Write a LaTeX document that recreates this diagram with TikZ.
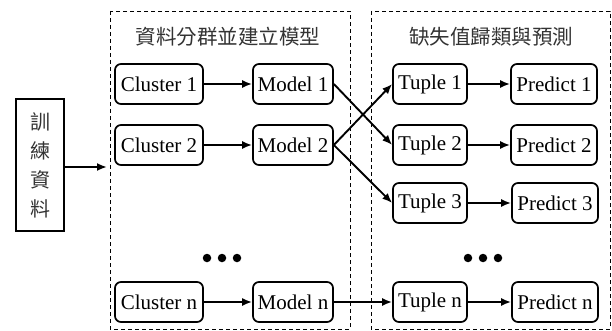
\documentclass[tikz,border=0pt]{standalone}
\usepackage{fontspec}
\setmainfont{Liberation Serif}
\newfontfamily\cjk{Noto Sans CJK TC}
\usetikzlibrary{arrows.meta}
\begin{document}
\begin{tikzpicture}[x=1pt,y=-1pt,
  item/.style={draw,line width=1.7pt,rounded corners=6pt,minimum height=40pt,
    inner sep=0pt,font=\fontsize{21}{22}\selectfont},
  link/.style={line width=1.9pt,-{Latex[length=10pt,width=8pt]}},
  group/.style={draw,line width=0.9pt,dash pattern=on 4pt off 3pt},
  heading/.style={font=\cjk\fontsize{20.5}{22}\selectfont,text=black!80},
  dot/.style={circle,fill=black,inner sep=0pt,minimum size=8.5pt}]
\useasboundingbox (0,0) rectangle (612,331);

% dashed groups
\draw[group] (110,11) rectangle (350,329);
\draw[group] (371,11) rectangle (610,329);
\node[heading] (h1) at (228,37) {資料分群並建立模型};
\node[heading] (h2) at (491,37) {缺失值歸類與預測};

% training data box
\node[draw,line width=1.7pt,minimum width=48pt,minimum height=132pt,inner sep=0pt,
  font=\cjk\fontsize{20}{29}\selectfont,text=black!80,align=center]
  (train) at (40,165) {訓\\練\\資\\料};

% clusters and models
\node[item,minimum width=88pt] (c1) at (159,84) {Cluster 1};
\node[item,minimum width=88pt] (c2) at (159,145) {Cluster 2};
\node[item,minimum width=88pt] (cn) at (159,302) {Cluster n};
\node[item,minimum width=80pt] (m1) at (293,84) {Model 1};
\node[item,minimum width=80pt] (m2) at (293,145) {Model 2};
\node[item,minimum width=80pt] (mn) at (293,302) {Model n};

% tuples and predictions
\node[item,minimum width=74pt] (t1) at (430,84) {Tuple 1};
\node[item,minimum width=74pt] (t2) at (430,145) {Tuple 2};
\node[item,minimum width=74pt] (t3) at (430,203) {Tuple 3};
\node[item,minimum width=74pt] (tn) at (430,302) {Tuple n};
\node[item,minimum width=86pt] (p1) at (554,84) {Predict 1};
\node[item,minimum width=86pt] (p2) at (554,145) {Predict 2};
\node[item,minimum width=86pt] (p3) at (555,203) {Predict 3};
\node[item,minimum width=86pt] (pn) at (555,302) {Predict n};

% ellipsis dots
\node[dot] (d1) at (207,258) {};
\node[dot] (d2) at (222,258) {};
\node[dot] (d3) at (237,258) {};
\node[dot] (e1) at (468,258) {};
\node[dot] (e2) at (483,258) {};
\node[dot] (e3) at (498,258) {};

% connectors
\coordinate (in) at (107,167);
\draw[link] (train.east |- in) -- (in);
\draw[link] (c1) -- (m1);
\draw[link] (c2) -- (m2);
\draw[link] (cn) -- (mn);
\draw[link] (m1.east) -- (t2.west);
\draw[link] (m2.east) -- (t1.west);
\draw[link] (m2.east) -- (t3.west);
\draw[link] (mn) -- (tn);
\draw[link] (t1) -- (p1);
\draw[link] (t2) -- (p2);
\draw[link] (t3) -- (p3);
\draw[link] (tn) -- (pn);
\end{tikzpicture}
\end{document}
